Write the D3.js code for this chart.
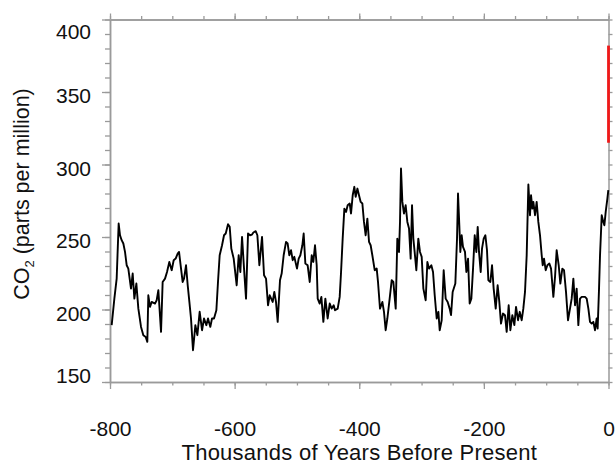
<!DOCTYPE html>
<html><head><meta charset="utf-8">
<script src="https://cdn.jsdelivr.net/npm/d3@7"></script>
<style>
body{margin:0;background:#fff;}
svg{display:block;font-family:"Liberation Sans",Arial,Helvetica,sans-serif;}
</style></head><body>
<svg id="chart" width="615" height="464"></svg>
<script>
// Ice-core CO2 record (thousands of years before present, ppm)
const years = [-797.3,-793.0,-789.3,-786.1,-783.9,-781.3,-778.6,-775.9,-773.2,-770.6,-766.3,-763.6,-760.9,-757.7,-754.5,-750.2,-746.5,-742.7,-740.1,-738.5,-735.8,-733.1,-727.8,-725.1,-722.4,-718.1,-715.5,-711.7,-708.5,-704.8,-701.0,-697.8,-694.6,-691.4,-689.2,-686.0,-683.4,-681.2,-678.0,-675.3,-672.6,-670.0,
-666.8,-663.0,-659.8,-656.1,-652.3,-649.1,-645.4,-642.7,-639.0,-636.3,-633.1,-629.3,-626.7,-624.0,-620.2,-617.0,-614.3,-610.6,-607.9,-605.3,-601.5,-596.7,-593.5,-590.8,-588.1,-584.9,-581.7,-578.5,-575.3,-572.1,-569.9,-566.2,-563.5,-560.3,-556.0,-552.8,-549.6,-546.4,-543.7,
-538.9,-536.3,-533.6,-530.9,-527.2,-524.5,-521.3,-517.5,-514.9,-512.2,-509.5,-506.8,-504.2,-499.9,-497.2,-494.5,-491.3,-489.2,-486.5,-482.8,-479.5,-476.3,-473.7,-471.0,-468.3,-466.7,-463.5,-460.8,-457.6,-454.4,-450.7,-447.4,-444.2,-441.0,-438.9,-434.6,-431.4,-429.2,-426.6,-423.9,-421.2,-418.6,-415.3,-413.2,-410.5,-407.9,
-405.7,-403.0,-400.4,-397.7,-395.0,-392.4,-389.7,-387.0,-384.3,-381.7,-379.0,-375.2,-372.0,-369.9,-366.7,-362.9,-360.3,-357.6,-354.9,-351.2,-347.9,-345.3,-341.5,-338.9,-336.2,-334.6,-333.0,-330.8,-328.2,-325.5,-322.8,-320.1,-317.5,-315.3,-313.2,-311.1,-308.4,-305.2,-302.5,-299.8,-297.1,-293.4,-290.7,-288.0,-284.3,-281.6,-278.9,-275.7,-273.0,
-270.9,-267.7,-264.5,-261.3,-258.1,-254.9,-252.7,-250.1,-245.8,-243.1,-241.5,-239.4,-237.8,-235.6,-233.5,-230.3,-228.1,-225.4,-222.8,-220.1,-217.4,-214.7,-212.1,-209.9,-207.8,-205.1,-203.0,-200.3,-197.6,-195.0,-192.8,-189.6,-186.9,-184.3,-181.0,-177.9,-175.2,-172.5,-169.3,-166.1,-163.4,-160.2,-157.5,-154.3,-151.1,-148.4,-145.2,-142.5,
-139.3,-136.7,-134.0,-131.3,-128.6,-126.0,-124.3,-122.2,-120.6,-117.9,-115.3,-112.6,-109.9,-107.2,-105.6,-103.5,-100.8,-98.1,-94.9,-92.2,-88.5,-85.8,-83.2,-79.9,-77.3,-74.1,-71.4,-68.2,-65.0,-61.8,-59.1,-56.4,-53.7,-51.1,-48.4,-45.7,-43.0,-37.7,-35.0,-32.3,-29.7,-27.0,-24.3,-21.6,-19.0,-17.4,-15.2,-13.6,-10.9,-8.3,-6.6,-4.5,-1.8,-0.3];
const co2 = [189.2,207.5,221.3,259.3,251.2,247.8,245.5,239.7,230.5,228.2,214.4,224.8,207.5,217.9,200.6,188.0,182.3,181.1,177.7,209.8,201.8,205.2,204.1,206.4,213.3,184.6,219.0,221.3,225.9,232.8,227.1,234.0,235.1,238.6,239.7,228.2,219.0,221.3,230.5,216.7,205.2,193.8,
171.9,189.2,182.3,198.4,185.7,193.8,189.2,193.8,188.0,193.8,193.8,199.5,219.0,237.4,244.3,251.2,252.4,258.8,257.0,242.0,235.1,216.7,237.4,225.9,250.1,228.2,207.5,252.4,251.2,251.7,253.1,254.0,251.2,230.5,250.1,223.6,221.3,202.9,209.8,
205.2,212.1,205.2,191.5,220.2,224.8,237.4,246.6,245.5,237.4,240.9,234.0,236.3,228.2,235.1,237.4,244.3,252.4,231.7,230.5,219.0,237.4,232.8,244.3,230.5,207.5,204.1,208.7,191.5,207.5,193.8,204.1,200.6,202.9,199.5,200.6,208.7,225.9,248.9,269.6,267.3,271.9,273.1,266.2,278.8,284.6,
277.7,283.4,278.8,274.2,273.1,260.4,251.2,262.7,246.6,244.3,237.4,227.1,228.2,219.0,200.6,205.2,198.4,185.7,193.8,207.5,220.2,219.0,200.6,248.9,239.7,260.4,297.2,274.2,266.2,271.9,260.4,255.8,235.1,271.9,248.9,239.7,227.1,248.9,239.7,236.3,214.4,206.4,232.8,228.2,230.5,225.9,209.8,193.8,198.4,
185.7,192.6,227.1,207.5,205.2,200.6,196.1,212.1,217.9,248.9,280.0,258.1,239.7,251.2,243.2,239.7,225.9,235.1,204.1,207.5,228.2,251.2,239.7,257.0,239.7,225.9,242.0,248.9,251.2,240.9,220.2,219.0,230.5,214.4,200.6,216.7,205.2,190.3,197.2,196.1,184.6,202.9,185.7,196.1,189.2,201.8,192.6,198.4,
192.6,200.6,212.1,237.4,286.2,265.0,278.8,269.6,274.2,265.0,274.2,260.4,251.2,237.4,230.5,235.1,227.1,230.5,231.7,228.2,208.7,222.5,240.9,230.5,217.9,228.2,227.1,212.1,192.6,200.6,207.5,221.3,202.9,214.4,189.2,207.5,208.7,208.7,207.5,200.6,191.5,190.3,191.5,185.7,193.8,186.9,214.4,237.4,265.0,260.4,258.1,267.3,276.5,282.3];
// Modern instrumental record (red bar at year 0)
const modernYears = [0, 0];
const modernCO2 = [315, 382];
// Axis tick labels
const xTickValues = [-800, -600, -400, -200, 0];
const yTickValues = [150, 200, 250, 300, 350, 400];
const xLabel = "Thousands of Years Before Present";

const svg = d3.select("#chart");
const L = 110, R = 608.5, T = 19.5, B = 382;
const x = d3.scaleLinear().domain([-800, 0]).range([L, R]);
const y = d3.scaleLinear().domain([150, 400]).range([B, T]);
const xMinor = d3.range(-800, 1, 50);
const yMinor = d3.range(150, 401, 10);
const axisColor = "#9a9a9a";
const fmt = d => String(d);

function style(g) {
  g.selectAll("path.domain").attr("stroke", axisColor).attr("stroke-width", 1.5);
  g.selectAll(".tick line").attr("stroke", axisColor).attr("stroke-width", 1.3);
  g.selectAll(".tick text").attr("fill", "#111").attr("font-size", 21)
    .attr("font-family", "'Liberation Sans', Arial, Helvetica, sans-serif");
}

// bottom
svg.append("g").attr("transform", `translate(0,${B})`)
  .call(d3.axisBottom(x).tickValues(xMinor).tickSize(3.5).tickSizeOuter(0).tickFormat("")).call(style);
svg.append("g").attr("transform", `translate(0,${B})`)
  .call(d3.axisBottom(x).tickValues(xTickValues).tickSize(7).tickSizeOuter(0).tickPadding(32).tickFormat(fmt)).call(style);
// top
svg.append("g").attr("transform", `translate(0,${T})`)
  .call(d3.axisTop(x).tickValues(xMinor).tickSize(3.5).tickSizeOuter(0).tickFormat("")).call(style);
svg.append("g").attr("transform", `translate(0,${T})`)
  .call(d3.axisTop(x).tickValues(xTickValues).tickSize(6).tickSizeOuter(0).tickFormat("")).call(style);
// left
svg.append("g").attr("transform", `translate(${L},0)`)
  .call(d3.axisLeft(y).tickValues(yMinor).tickSize(5).tickSizeOuter(0).tickFormat("")).call(style);
const yAx = svg.append("g").attr("transform", `translate(${L},0)`)
  .call(d3.axisLeft(y).tickValues(yTickValues).tickSize(8).tickSizeOuter(0).tickPadding(11).tickFormat(fmt)).call(style);
yAx.selectAll(".tick text").attr("dy", d => d === 400 ? "0.9em" : d === 150 ? "0.0em" : "0.52em");
// right
svg.append("g").attr("transform", `translate(${R},0)`)
  .call(d3.axisRight(y).tickValues(yMinor).tickSize(4).tickSizeOuter(0).tickFormat("")).call(style);

// CO2 curve
const pts = years.map((yr, i) => [yr, co2[i]]);
svg.append("path").datum(pts)
  .attr("fill", "none").attr("stroke", "#000").attr("stroke-width", 1.9).attr("stroke-linejoin", "round")
  .attr("d", d3.line().x(d => x(d[0])).y(d => y(d[1])));

// modern record
svg.append("path").datum(modernYears.map((yr, i) => [yr, modernCO2[i]]))
  .attr("fill", "none").attr("stroke", "#f01818").attr("stroke-width", 2.8)
  .attr("d", d3.line().x(d => x(d[0])).y(d => y(d[1])));

// axis titles
svg.append("text").attr("x", (L + R) / 2).attr("y", 460).attr("text-anchor", "middle")
  .attr("font-size", 22).attr("letter-spacing", 0.25).attr("fill", "#111").text(xLabel);
const yt = svg.append("text").attr("transform", `translate(28.5,194) rotate(-90)`)
  .attr("text-anchor", "middle").attr("font-size", 21.5).attr("fill", "#111");
yt.append("tspan").text("CO");
yt.append("tspan").attr("font-size", 13).attr("dy", 5).text("2");
yt.append("tspan").attr("dy", -5).text(" (parts per million)");
</script>
</body></html>
